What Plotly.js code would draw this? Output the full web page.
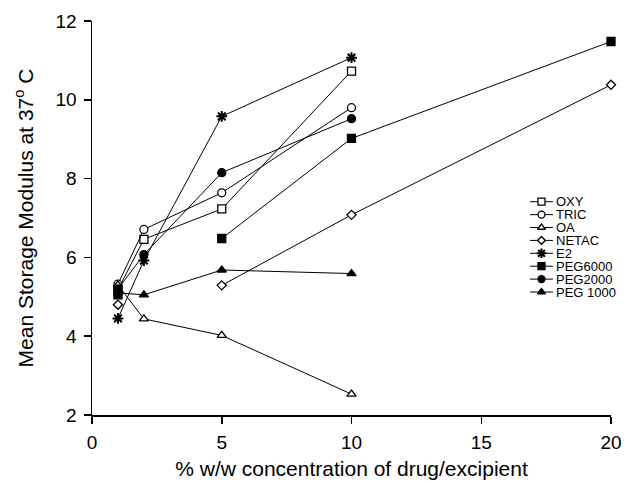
<!DOCTYPE html>
<html><head><meta charset="utf-8">
<script src="https://cdn.plot.ly/plotly-3.0.1.min.js"></script>
<style>html,body{margin:0;padding:0;background:#fff}#plot{width:624px;height:481px}</style>
</head><body><div id="plot"></div>
<script>
const conc = [1, 2, 5, 10, 20];
const seriesNames = ["OXY", "TRIC", "OA", "NETAC", "E2", "PEG6000", "PEG2000", "PEG 1000"];
const OXY     = [5.18, 6.46, 7.23, 10.73, null];
const TRIC    = [5.32, 6.71, 7.64, 9.80, null];
const OA      = [5.30, 4.44, 4.02, 2.53, null];
const NETAC   = [4.80, null, 5.29, 7.08, 10.38];
const E2      = [4.45, 5.92, 9.58, 11.07, null];
const PEG6000 = [5.05, null, 6.48, 9.02, 11.48];
const PEG2000 = [5.20, 6.07, 8.15, 9.52, null];
const PEG1000 = [5.10, 5.05, 5.68, 5.59, null];
const seriesValues = [OXY, TRIC, OA, NETAC, E2, PEG6000, PEG2000, PEG1000];
const xTicks = [0, 5, 10, 15, 20];
const yTicks = [2, 4, 6, 8, 10, 12];

const symbols = ["square", "circle", "triangle-up", "diamond", "asterisk-open", "square", "circle", "triangle-up"];
const filled = [false, false, false, false, false, true, true, true];
const FONT = "Liberation Sans, Arial, sans-serif";

function markerFor(i, size) {
  const sym = symbols[i];
  if (sym === "asterisk-open") {
    return {symbol: sym, size: size + 1, color: "#000", line: {color: "#000", width: 2}};
  }
  return {symbol: sym, size: sym === "diamond" ? size - 1 : size,
          color: filled[i] ? "#000" : "#fff", line: {color: "#000", width: 1.3}};
}

const traces = [];
seriesNames.forEach((name, i) => {
  traces.push({
    x: conc, y: seriesValues[i], name: name, type: "scatter", mode: "lines+markers",
    connectgaps: false, showlegend: false,
    line: {color: "#000", width: 1}, marker: markerFor(i, 8),
    xaxis: "x", yaxis: "y", cliponaxis: false
  });
});
// custom compact legend
const annotations = [];
seriesNames.forEach((name, i) => {
  traces.push({x: [0, 1], y: [i, i], mode: "lines", showlegend: false, hoverinfo: "skip",
    line: {color: "#000", width: 1}, xaxis: "x2", yaxis: "y2"});
  traces.push({x: [0.5], y: [i], mode: "markers", showlegend: false, hoverinfo: "skip",
    marker: markerFor(i, 7), xaxis: "x2", yaxis: "y2"});
  annotations.push({x: 1, y: i, xref: "x2", yref: "y2", text: name, showarrow: false,
    xanchor: "left", yanchor: "middle", xshift: 2, borderpad: 0,
    font: {family: FONT, size: 13, color: "#000"}});
});

const layout = {
  width: 624, height: 481,
  margin: {l: 92, r: 13, t: 21, b: 66},
  paper_bgcolor: "#fff", plot_bgcolor: "#fff",
  font: {family: FONT, color: "#000"},
  showlegend: false,
  xaxis: {
    range: [0, 20], tickvals: xTicks, ticktext: xTicks.map(String),
    showgrid: false, zeroline: false, showline: true, linecolor: "#000", linewidth: 1.5,
    ticks: "outside", ticklen: 7, tickwidth: 1.5, tickcolor: "#000", ticklabelstandoff: 3,
    tickfont: {family: FONT, size: 19, color: "#000"},
    title: {text: "% w/w concentration of drug/excipient", font: {family: FONT, size: 21, color: "#000"}, standoff: 9}
  },
  yaxis: {
    range: [2, 12], tickvals: yTicks, ticktext: yTicks.map(String),
    showgrid: false, zeroline: false, showline: true, linecolor: "#000", linewidth: 1.5,
    ticks: "outside", ticklen: 7, tickwidth: 1.5, tickcolor: "#000", ticklabelstandoff: 3,
    tickfont: {family: FONT, size: 19, color: "#000"},
    title: {text: "Mean Storage Modulus at 37<sup>o</sup> C", font: {family: FONT, size: 21, color: "#000"}, standoff: 16}
  },
  xaxis2: {domain: [0.8439, 0.8882], range: [0, 1], visible: false, fixedrange: true, anchor: "y2"},
  yaxis2: {domain: [0.2958, 0.5577], range: [7.5, -0.5], visible: false, fixedrange: true, anchor: "x2"},
  annotations: annotations
};
Plotly.newPlot("plot", traces, layout, {displayModeBar: false, staticPlot: true});
</script></body></html>
